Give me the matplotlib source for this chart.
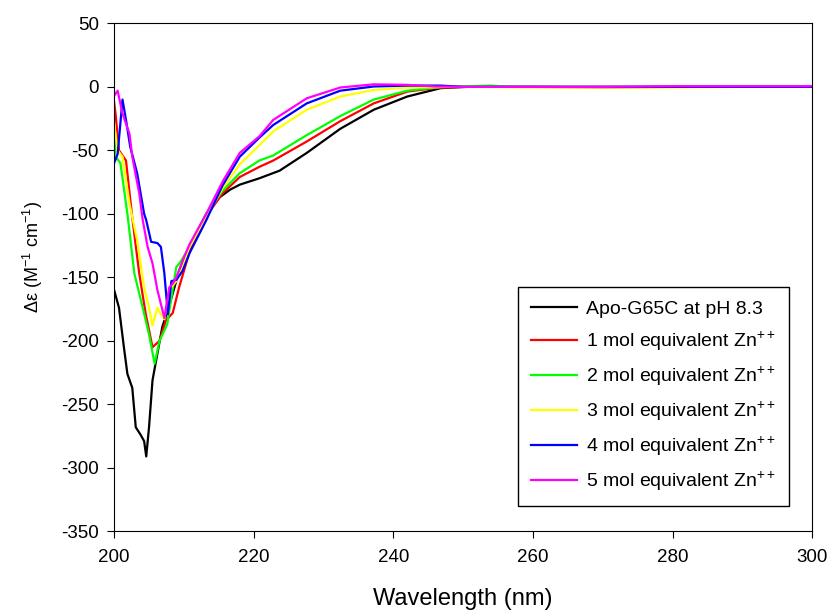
import matplotlib
matplotlib.use("Agg")
import matplotlib.pyplot as plt

plt.rcParams['font.family'] = ['Liberation Sans', 'DejaVu Sans']
plt.rcParams['mathtext.fontset'] = 'custom'
plt.rcParams['mathtext.rm'] = 'Liberation Sans'
plt.rcParams['mathtext.it'] = 'Liberation Sans:italic'
plt.rcParams['axes.unicode_minus'] = False

# CD spectra (wavelength nm, delta epsilon)
wl_apo = [200.0, 200.7, 201.4, 201.9, 202.6, 203.1, 203.8, 204.3, 204.6, 205.0, 205.5, 206.2,
          206.9, 207.7, 208.9, 210.8, 213.2, 215.1, 216.6, 218.0, 220.8, 223.7, 227.6, 232.4, 237.2,
          242.0, 246.8, 250.6, 260, 270, 280, 290, 300]
de_apo = [-160, -174, -205, -226, -237, -268, -274, -279, -291, -268, -231, -210,
          -189, -176, -153, -126, -100, -87, -81, -77, -72, -66, -52, -33, -18,
          -7.6, -1, 0, 0, -0.4, 0, 0, 0]

wl_zn1 = [200.0, 200.2, 200.7, 201.7, 202.6, 203.6, 204.5, 205.5, 206.5, 207.4, 208.4, 209.3,
          210.8, 213.2, 215.5, 218.0, 220.8, 222.8, 227.6, 232.4, 237.2, 242.0, 246.8, 250,
          260, 270, 280, 290, 300]
de_zn1 = [-12, -21, -50, -58, -103, -147, -178, -205, -200, -184, -178, -158,
          -130, -102, -84, -71, -63, -58, -43, -27, -13, -3.7, -0.4, 0,
          0, 0, 0, 0, 0]

wl_zn2 = [200.0, 200.2, 200.9, 201.9, 202.9, 204.1, 205.0, 205.8, 206.5, 207.6, 208.9, 209.6,
          210.8, 213.2, 215.5, 218.0, 220.8, 222.8, 227.6, 232.4, 237.2, 242.0, 246.8, 250,
          254, 257, 270, 280, 290, 300]
de_zn2 = [-34, -55, -60, -100, -147, -174, -195, -218, -200, -187, -142, -137,
          -126, -100, -82, -68, -58, -54, -38, -23, -10, -3, 0, 0.5,
          1, 0, 0, 0, 0, 0]

wl_zn3 = [200.0, 200.5, 201.2, 202.2, 203.3, 204.3, 205.0, 205.5, 206.2, 206.7, 207.2, 207.9,
          208.9, 209.8, 210.8, 213.2, 215.5, 218.0, 220.8, 222.8, 227.6, 232.4, 237.2, 242.0,
          250, 260, 270, 280, 290, 300]
de_zn3 = [-29, -50, -55, -92, -121, -158, -174, -188, -174, -179, -183, -160,
          -153, -142, -126, -103, -80, -61, -46, -35, -18, -7.6, -2.4, -0.5,
          0, -0.5, -0.5, -0.5, 0, 0]

wl_zn4 = [200.0, 200.5, 201.2, 201.7, 202.3, 203.3, 204.3, 204.6, 205.3, 206.2, 206.7, 207.2,
          207.7, 208.2, 208.9, 209.8, 210.8, 213.2, 215.5, 218.0, 220.8, 222.8, 227.6, 232.4,
          237.2, 242.0, 246.8, 250, 260, 270, 280, 290, 300]
de_zn4 = [-60, -53, -10, -26, -47, -68, -100, -105, -122, -123, -126, -147,
          -179, -153, -152, -145, -131, -105, -78, -55, -40, -30, -13, -3,
          0.3, 1, 1, 0, 0, 0, 0, 0, 0]

wl_zn5 = [200.0, 200.5, 201.2, 202.2, 202.6, 203.6, 204.1, 204.8, 205.5, 206.2, 207.2, 207.9,
          208.4, 208.9, 209.8, 210.8, 213.2, 215.6, 218.0, 220.8, 222.8, 227.6, 232.4, 237.2,
          242.0, 246.0, 250, 260, 270, 280, 290, 300]
de_zn5 = [-7, -3, -21, -37, -55, -84, -105, -126, -139, -160, -182, -158,
          -155, -150, -137, -124, -100, -74, -52, -39, -26, -9, -0.5, 2,
          1.6, 0.3, 0, 0, 0, 0.5, 0.5, 0.5]

series = [
    (wl_apo, de_apo, 'black', 'Apo-G65C at pH 8.3'),
    (wl_zn1, de_zn1, '#ff0000', '1 mol equivalent Zn$^{++}$'),
    (wl_zn2, de_zn2, '#00ff00', '2 mol equivalent Zn$^{++}$'),
    (wl_zn3, de_zn3, '#ffff00', '3 mol equivalent Zn$^{++}$'),
    (wl_zn4, de_zn4, '#0000ff', '4 mol equivalent Zn$^{++}$'),
    (wl_zn5, de_zn5, '#ff00ff', '5 mol equivalent Zn$^{++}$'),
]

fig = plt.figure(figsize=(8.27, 6.15), dpi=100)
ax = fig.add_axes([0.138, 0.136, 0.844, 0.826])

for x, y, c, lab in series:
    ax.plot(x, y, color=c, lw=1.6, label=lab)

ax.set_xlim(200, 300)
ax.set_ylim(-350, 50)
ax.set_xticks(range(200, 301, 20))
ax.set_yticks(range(-350, 51, 50))
ax.tick_params(direction='out', length=5, labelsize=13.5, top=False, right=False)
ax.tick_params(axis='x', pad=8)
ax.tick_params(axis='y', pad=6)
ax.set_xlabel('Wavelength (nm)', fontsize=17)
ax.xaxis.set_label_coords(0.5, -0.112)
ax.set_ylabel('\u0394\u03b5 (M$^{-1}$ cm$^{-1}$)', fontsize=13)
ax.yaxis.set_label_coords(-0.099, 0.54)

leg = ax.legend(loc='lower right', bbox_to_anchor=(0.9674, 0.049), borderaxespad=0,
                fontsize=14, frameon=True, fancybox=False, edgecolor='black', framealpha=1,
                handlelength=2.37, handletextpad=0.46, labelspacing=0.6, borderpad=0.69)
leg.get_frame().set_linewidth(1.0)

fig.savefig('out.png', dpi=100)
